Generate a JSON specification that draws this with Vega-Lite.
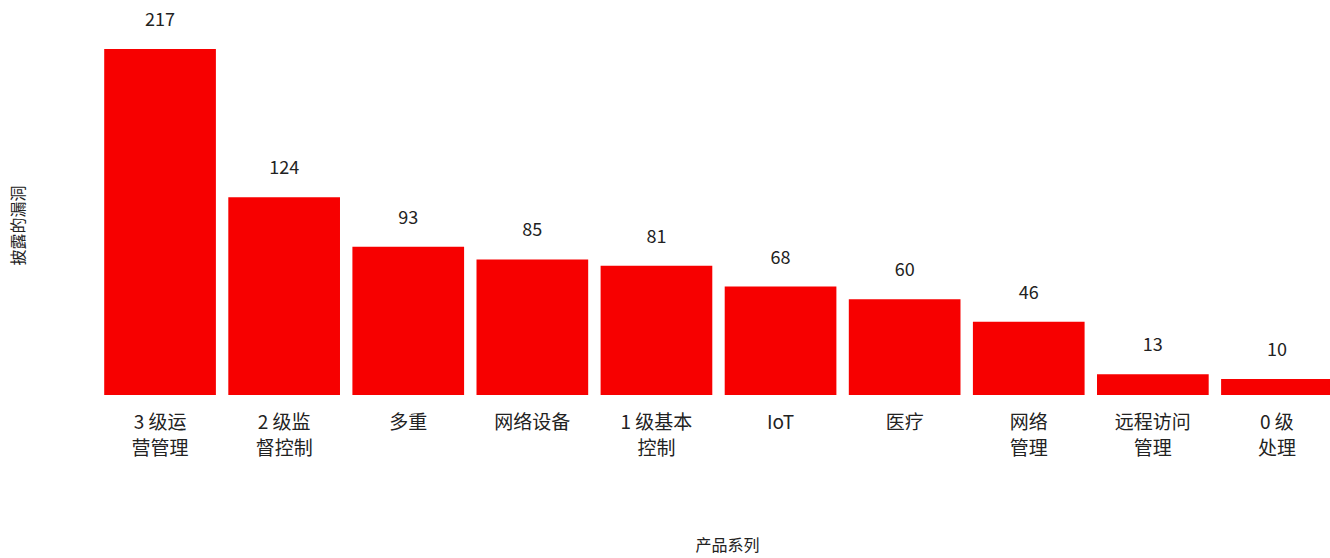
{
  "$schema": "https://vega.github.io/schema/vega-lite/v6.json",
  "autosize": {"type": "none"},
  "width": 1232,
  "height": 346,
  "padding": {"left": 98, "top": 49, "right": 0, "bottom": 163},
  "background": "white",
  "config": {
    "view": {"stroke": null},
    "font": "Noto Sans CJK SC"
  },
  "data": {
    "values": [
      {"series": "3 级运|营管理", "count": 217},
      {"series": "2 级监|督控制", "count": 124},
      {"series": "多重", "count": 93},
      {"series": "网络设备", "count": 85},
      {"series": "1 级基本|控制", "count": 81},
      {"series": "IoT", "count": 68},
      {"series": "医疗", "count": 60},
      {"series": "网络|管理", "count": 46},
      {"series": "远程访问|管理", "count": 13},
      {"series": "0 级|处理", "count": 10}
    ]
  },
  "encoding": {
    "x": {
      "field": "series",
      "type": "nominal",
      "sort": null,
      "scale": {"range": [0, 1241], "paddingInner": 0.1, "paddingOuter": 0.05},
      "axis": {
        "title": "产品系列",
        "titleFontSize": 16,
        "titleFontWeight": "normal",
        "titleColor": "#222",
        "titleBaseline": "middle",
        "titleY": 150,
        "titleX": 629,
        "labelExpr": "split(datum.label, '|')",
        "labelAngle": 0,
        "labelFontSize": 19,
        "labelColor": "#222",
        "labelBaseline": "top",
        "labelLineHeight": 26,
        "labelPadding": 18,
        "ticks": false,
        "domain": false,
        "labelLimit": 0
      }
    },
    "y": {
      "field": "count",
      "type": "quantitative",
      "scale": {"domain": [0, 217], "nice": false},
      "axis": {
        "title": "披露的漏洞",
        "titleFontSize": 16,
        "titleFontWeight": "normal",
        "titleColor": "#222",
        "titleAngle": 270,
        "titleBaseline": "middle",
        "titleAlign": "center",
        "titleX": -80,
        "titleY": 176,
        "labels": false,
        "ticks": false,
        "domain": false,
        "grid": false
      }
    }
  },
  "layer": [
    {"mark": {"type": "bar", "color": "#f70000"}},
    {
      "mark": {"type": "text", "baseline": "middle", "dy": -28, "fontSize": 18, "color": "#222"},
      "encoding": {"text": {"field": "count", "type": "quantitative"}}
    }
  ]
}
